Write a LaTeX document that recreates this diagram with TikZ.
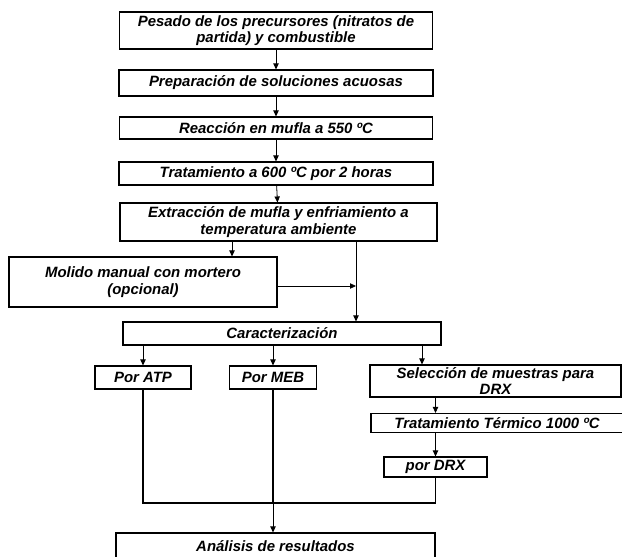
\documentclass[tikz,border=0pt]{standalone}
\usepackage{fontspec}
\setmainfont{Liberation Sans}
\usetikzlibrary{arrows.meta}
\begin{document}
\begin{tikzpicture}[x=0.75pt,y=-0.75pt,
  proc/.style={draw,line width=0.8pt,inner sep=0pt,align=center,font=\fontsize{11.2}{12.5}\selectfont\bfseries\itshape},
  arr/.style={-{Triangle[length=4.5pt,width=4pt]},line width=0.6pt},
  bus/.style={line width=2.2pt}]
\clip (0,0) rectangle (622,557);
% etapas de sintesis
\node[proc,minimum width=234.75pt,minimum height=27.75pt] (pesado) at (276,30.5) {Pesado de los precursores (nitratos de\\partida) y combustible};
\node[proc,minimum width=235.5pt,minimum height=19.5pt] (prep) at (276,83) {Preparación de soluciones acuosas};
\node[proc,minimum width=234.75pt,minimum height=16.5pt] (reac) at (276,128) {Reacción en mufla a 550 ºC};
\node[proc,minimum width=235.5pt,minimum height=17.25pt] (trat600) at (276,173.5) {Tratamiento a 600 ºC por 2 horas};
\node[proc,minimum width=237.75pt,minimum height=28.5pt] (extr) at (278.5,222) {Extracción de mufla y enfriamiento a\\temperatura ambiente};
\node[proc,minimum width=201pt,minimum height=37.5pt] (molido) at (143,282) {Molido manual con mortero\\(opcional)};
% caracterizacion
\node[proc,minimum width=238.5pt,minimum height=17.25pt] (caract) at (282,333.5) {Caracterización};
\node[proc,minimum width=72pt,minimum height=17.25pt] (atp) at (143,377.5) {Por ATP};
\node[proc,minimum width=65.25pt,minimum height=17.25pt] (meb) at (273,377.5) {Por MEB};
\node[proc,minimum width=188.25pt,minimum height=24pt] (sel) at (495.5,381) {Selección de muestras para\\DRX};
\node[proc,minimum width=189pt,minimum height=14.25pt] (trat1000) at (497,423) {Tratamiento Térmico 1000 ºC};
\node[proc,minimum width=77.25pt,minimum height=15pt] (drx) at (435.5,467) {por DRX};
\node[proc,minimum width=239.25pt,minimum height=20.25pt] (anal) at (275.5,546.5) {Análisis de resultados};
% conectores
\draw[arr] (pesado) -- (prep);
\draw[arr] (prep) -- (reac);
\draw[arr] (reac) -- (trat600);
\draw[arr] (trat600) -- (extr);
\coordinate (molin) at (232,241);
\coordinate (paso) at (356,241);
\draw[arr] (molin) -- (molin |- molido.north);
\draw[arr] (paso) -- (paso |- caract.north);
\draw[arr] ([yshift=-3pt]molido.east) -- ([yshift=-3pt]molido.east -| paso);
\draw[arr] (caract.south -| atp.north) -- (atp.north);
\draw[arr] (caract.south -| meb.north) -- (meb.north);
\coordinate (selin) at (422,345);
\draw[arr] (selin) -- (selin |- sel.north);
\draw[arr] (sel.south -| drx.north) -- (trat1000.north -| drx.north);
\draw[arr] (trat1000.south -| drx.north) -- (drx.north);
\coordinate (bus) at (273,503);
\draw[bus] (atp.south) -- (atp.south |- bus) -- (bus -| drx.south);
\draw[bus] (meb.south) -- (meb.south |- bus);
\draw[line width=0.8pt] (drx.south) -- (drx.south |- bus);
\draw[arr] (meb.south |- bus) -- (meb.south |- anal.north);
\end{tikzpicture}
\end{document}
